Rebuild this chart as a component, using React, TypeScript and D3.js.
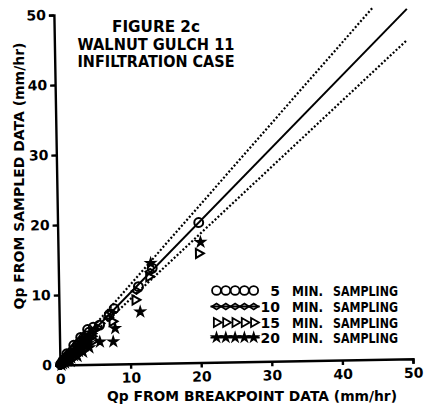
import React, { useEffect, useRef } from 'react';
import * as d3 from 'd3';

// values: [Qp from breakpoint, Qp from sampled]
const sampling5: [number, number][] = [
  [0.1, 0.1], [0.3, 0.4], [0.5, 0.6], [0.7, 0.8], [0.9, 1.0], [1.0, 1.6], [1.1, 1.2], [1.3, 1.5],
  [1.6, 1.7], [1.9, 2.1], [2.0, 2.8], [2.2, 2.4], [2.5, 2.8], [2.8, 3.1], [3.0, 3.9], [3.1, 3.4],
  [3.4, 3.8], [3.8, 4.1], [4.0, 5.0], [4.2, 4.6], [4.8, 5.3], [5.7, 5.6], [7.1, 7.1], [7.8, 7.9],
  [11.3, 11.0], [13.3, 13.6], [20.0, 20.0],
];
const sampling10: [number, number][] = [
  [0.2, 0.1], [0.4, 0.3], [0.6, 0.5], [0.8, 0.7], [1.0, 0.9], [1.3, 1.2], [1.6, 1.4], [1.9, 1.8],
  [2.2, 2.1], [2.6, 2.5], [2.9, 2.9], [3.3, 3.2], [3.5, 3.9], [3.7, 3.6], [4.1, 4.0], [4.6, 4.4],
  [4.9, 4.9], [5.4, 5.2], [7.4, 7.4], [7.0, 6.6], [11.0, 10.4], [13.0, 13.1],
];
const sampling15: [number, number][] = [
  [0.3, 0.2], [0.5, 0.3], [0.8, 0.5], [1.1, 0.8], [1.4, 1.1], [1.7, 1.3], [2.0, 1.6], [2.4, 2.0],
  [2.8, 2.3], [3.0, 2.0], [3.2, 2.8], [3.6, 3.1], [4.0, 3.6], [4.5, 4.0], [4.8, 3.4], [7.5, 6.1],
  [10.8, 9.1], [12.8, 12.4], [19.9, 15.6],
];
const sampling20: [number, number][] = [
  [0.2, 0.0], [0.4, 0.2], [0.7, 0.3], [1.0, 0.6], [1.3, 0.8], [1.5, 0.5], [1.6, 1.0], [2.0, 1.3],
  [2.3, 1.6], [2.5, 1.2], [2.7, 1.9], [3.1, 2.3], [3.3, 1.8], [3.5, 2.7], [4.0, 3.0], [4.2, 2.4],
  [5.7, 3.2], [7.6, 3.2], [7.9, 5.1], [11.5, 7.4], [13.1, 14.3], [20.2, 17.2],
];

// 1:1 line and the two dotted envelope lines
const lineEqual: [number, number][] = [[0, 0], [50, 50]];
const lineUpper: [number, number][] = [[0, 0], [45.2, 50.3]];
const lineLower: [number, number][] = [[0, 0], [50, 45.6]];

const xTicks = [0, 10, 20, 30, 40, 50];
const yTicks = [0, 10, 20, 30, 40, 50];
const legendNumbers = ['5', '10', '15', '20'];
const titleLines = ['FIGURE 2c', 'WALNUT GULCH 11', 'INFILTRATION CASE'];

const FONT = '"DejaVu Sans", sans-serif';

const App = () => {
  const svgRef = useRef<SVGSVGElement>(null);

  useEffect(() => {
    const root = d3.select(svgRef.current);
    root.selectAll('*').remove();

    const x = d3.scaleLinear().domain([0, 50]).range([60, 413]);
    const y = d3.scaleLinear().domain([0, 50]).range([365, 15]);

    // the scan is tilted by about one degree
    const g = root.append('g').attr('transform', 'rotate(-1, 60, 365)');

    const yAxis = g.append('g')
      .attr('transform', 'translate(60,0)')
      .call(d3.axisLeft(y).tickValues(yTicks).tickSize(5).tickPadding(3));
    const xAxis = g.append('g')
      .attr('transform', 'translate(0,365)')
      .call(d3.axisBottom(x).tickValues(xTicks).tickSize(5).tickPadding(4));

    [xAxis, yAxis].forEach(a => {
      a.selectAll('path, line').attr('stroke', '#000').attr('stroke-width', 2.4);
      a.selectAll('text')
        .attr('font-family', FONT)
        .attr('font-weight', 'bold')
        .attr('font-size', 14)
        .attr('fill', '#000');
    });

    const line = d3.line<[number, number]>().x(d => x(d[0])).y(d => y(d[1]));

    g.append('path').attr('d', line(lineEqual)).attr('stroke', '#000').attr('stroke-width', 2).attr('fill', 'none');
    [lineUpper, lineLower].forEach(l => {
      g.append('path')
        .attr('d', line(l))
        .attr('stroke', '#000')
        .attr('stroke-width', 2.2)
        .attr('stroke-dasharray', '2,2')
        .attr('fill', 'none');
    });

    const series = [
      { data: sampling20, path: d3.symbol(d3.symbolStar, 20)(), fill: '#000', tf: '' },
      { data: sampling15, path: d3.symbol(d3.symbolTriangle, 36)(), fill: 'none', tf: 'rotate(90)' },
      { data: sampling10, path: d3.symbol(d3.symbolDiamond2, 34)(), fill: 'none', tf: 'scale(1.25,0.8)' },
      { data: sampling5, path: d3.symbol(d3.symbolCircle, 62)(), fill: 'none', tf: '' },
    ];

    series.forEach(s => {
      g.append('g').selectAll('path')
        .data(s.data)
        .enter().append('path')
        .attr('d', s.path)
        .attr('transform', d => `translate(${x(d[0])},${y(d[1])}) ${s.tf}`)
        .attr('fill', s.fill)
        .attr('stroke', '#000')
        .attr('stroke-width', 2);
    });

    // legend
    const legendRows = [296, 312, 328, 343];
    const legendX = d3.range(5).map(i => 216.5 + i * 9.3);
    const legendSeries = [series[3], series[2], series[1], series[0]];
    legendSeries.forEach((s, i) => {
      const ly = legendRows[i] - 5.5;
      if (i === 1 || i === 3) {
        root.append('line')
          .attr('x1', legendX[0] - 6).attr('x2', legendX[4] + 6)
          .attr('y1', ly).attr('y2', ly)
          .attr('stroke', '#000').attr('stroke-width', 1.8);
      }
      root.append('g').selectAll('path')
        .data(legendX)
        .enter().append('path')
        .attr('d', s.path)
        .attr('transform', d => `translate(${d},${ly}) ${s.tf}`)
        .attr('fill', s.fill)
        .attr('stroke', '#000')
        .attr('stroke-width', 1.8);
      root.append('text')
        .attr('x', 280).attr('y', legendRows[i])
        .attr('text-anchor', 'end')
        .text(legendNumbers[i]);
      root.append('text')
        .attr('x', 292).attr('y', legendRows[i])
        .attr('textLength', 31).attr('lengthAdjust', 'spacingAndGlyphs')
        .text('MIN.');
      root.append('text')
        .attr('x', 333).attr('y', legendRows[i])
        .attr('textLength', 65).attr('lengthAdjust', 'spacingAndGlyphs')
        .text('SAMPLING');
    });

    // title block
    const titleY = [32, 50, 67];
    const titleW = [88, 157, 157];
    titleLines.forEach((t, i) => {
      root.append('text')
        .attr('x', 156).attr('y', titleY[i])
        .attr('text-anchor', 'middle')
        .attr('font-size', 15)
        .attr('textLength', titleW[i]).attr('lengthAdjust', 'spacingAndGlyphs')
        .text(t);
    });

    // axis titles
    root.append('text')
      .attr('x', 252).attr('y', 401)
      .attr('text-anchor', 'middle')
      .attr('font-size', 14)
      .attr('textLength', 290).attr('lengthAdjust', 'spacingAndGlyphs')
      .text('Qp FROM BREAKPOINT DATA (mm/hr)');
    root.append('text')
      .attr('transform', 'translate(24,176) rotate(-90)')
      .attr('text-anchor', 'middle')
      .attr('font-size', 14)
      .attr('textLength', 267).attr('lengthAdjust', 'spacingAndGlyphs')
      .text('Qp FROM SAMPLED DATA (mm/hr)');

    root.selectAll('svg > text')
      .attr('font-family', FONT)
      .attr('font-weight', 'bold')
      .attr('fill', '#000');
    root.selectAll('text:not([font-size])').attr('font-size', 14);
  }, []);

  return (
    <svg
      ref={svgRef}
      width={424}
      height={405}
      style={{ position: 'absolute', left: 0, top: 0, background: '#fff' }}
    />
  );
};

export default App;
